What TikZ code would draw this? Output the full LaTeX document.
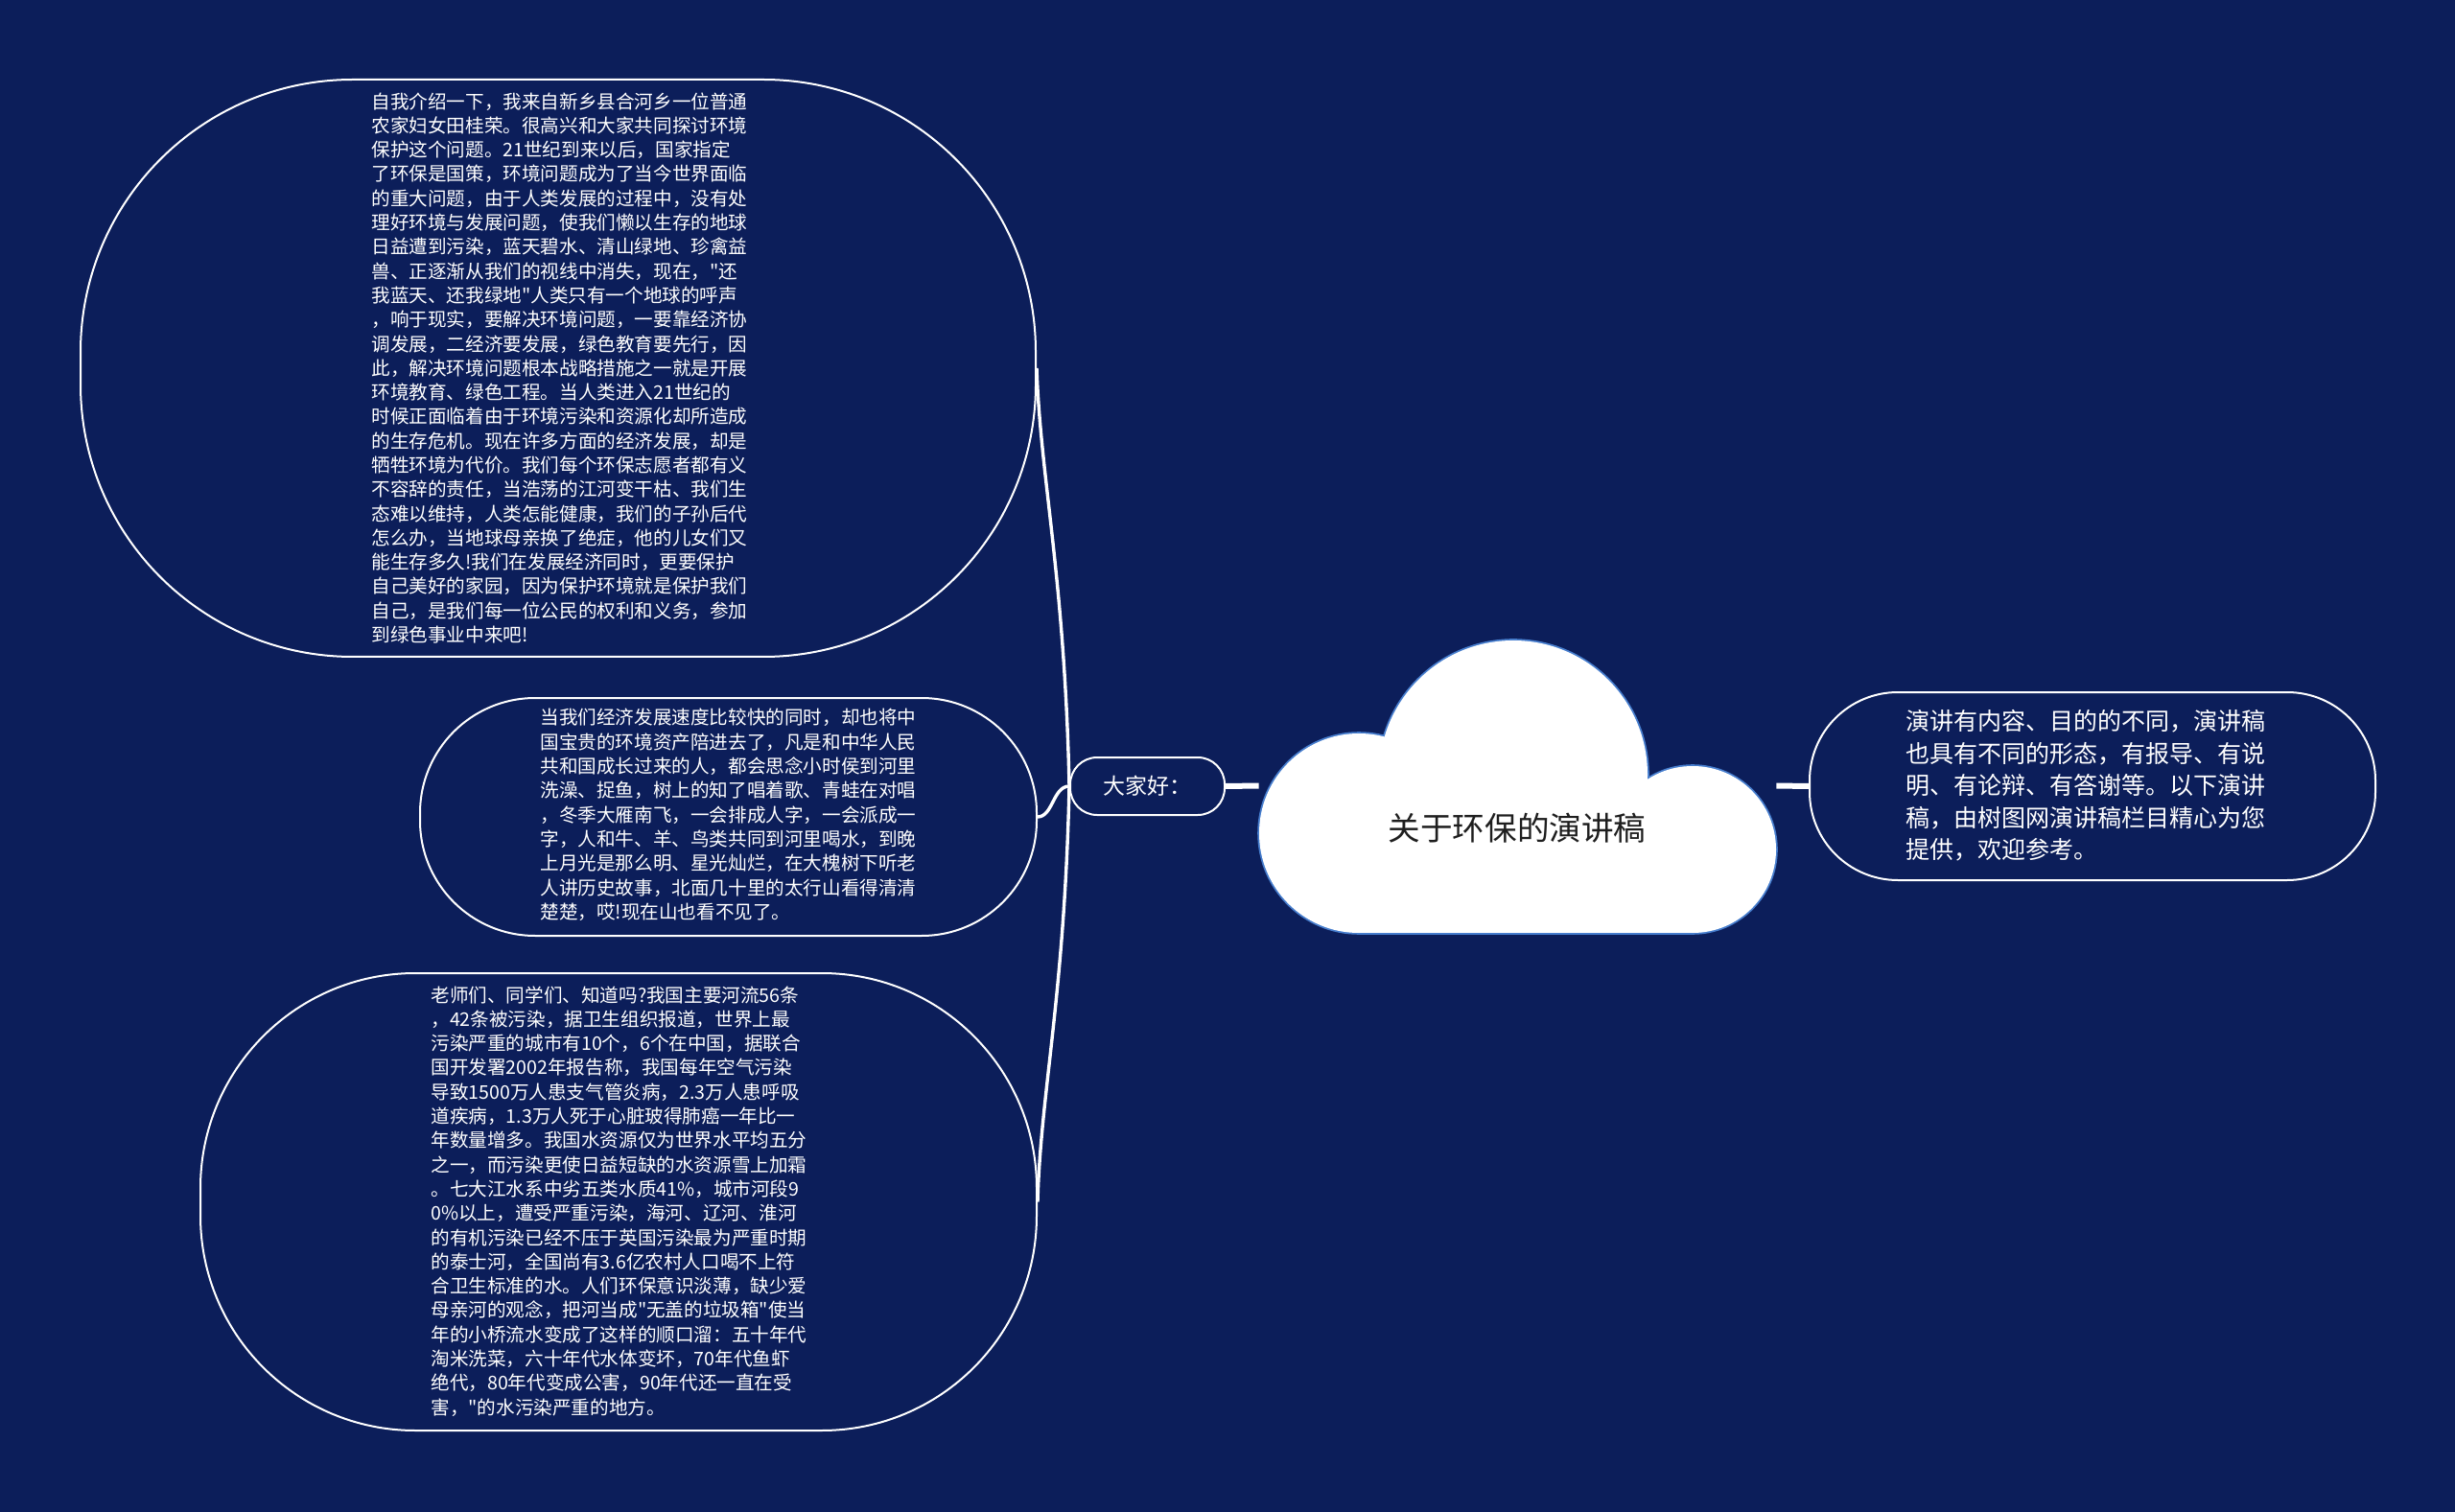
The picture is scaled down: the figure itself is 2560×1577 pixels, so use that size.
\documentclass[tikz,border=0pt]{standalone}
\usepackage{fontspec}
\setmainfont{Noto Sans CJK SC}
\newfontfamily\qfont{Noto Sans CJK SC}
\definecolor{bgnavy}{RGB}{12,30,90}
\definecolor{cloudedge}{RGB}{70,125,205}
\definecolor{titlecol}{RGB}{30,30,30}
\newcommand\sq{{\qfont"}}
\begin{document}
\begin{tikzpicture}[x=0.5pt,y=-0.5pt,
  box/.style={draw=white, line width=1pt, inner sep=0pt},
  txt/.style={text=white, inner sep=0pt, align=left, anchor=north west},
  smalltxt/.style={font=\fontsize{9.8pt}{12.65pt}\selectfont},
  conn/.style={draw=white, line width=1.7pt},
  stub/.style={draw=white, line width=3pt}]

\fill[bgnavy] (0,0) rectangle (2560,1577);
\useasboundingbox (0,0) rectangle (2560,1577);

% cloud (outline then fill)
\foreach \cx/\cy/\r in {1417/869/104, 1578/808/140, 1765/886/87}
  \draw[cloudedge, line width=1.8pt] (\cx,\cy) circle[radius=\r];
\draw[cloudedge, line width=1.8pt] (1417,869) rectangle (1765,973);
\foreach \cx/\cy/\r in {1417/869/104, 1578/808/140, 1765/886/87}
  \fill[white] (\cx,\cy) circle[radius=\r];
\fill[white] (1417,869) rectangle (1765,973);

\node[minimum width=269.5pt, minimum height=153.5pt, inner sep=0pt] (root) at (1582.5,819.5) {};
\node[font=\fontsize{16.8pt}{20pt}\selectfont, text=titlecol, inner sep=0pt] (title) at (1582,864) {关于环保的演讲稿};

% left hub
\node[box, rounded corners=14pt, minimum width=80.5pt, minimum height=30pt, text=white,
      font=\fontsize{11.5pt}{14pt}\selectfont] (dajia) at (1196.5,820) {大家好：};

% right node
\node[box, rounded corners=46pt, minimum width=295pt, minimum height=98pt] (rbox) at (2182,820) {};
\node[txt, font=\fontsize{12.5pt}{16.8pt}\selectfont] (rtext) at (1987,740) {演讲有内容、目的的不同，演讲稿\\
也具有不同的形态，有报导、有说\\
明、有论辩、有答谢等。以下演讲\\
稿，由树图网演讲稿栏目精心为您\\
提供，欢迎参考。};

% block 1
\node[box, rounded corners=142pt, minimum width=498pt, minimum height=301pt] (b1) at (582,384) {};
\node[txt, smalltxt] (t1) at (387,96) {自我介绍一下，我来自新乡县合河乡一位普通\\
农家妇女田桂荣。很高兴和大家共同探讨环境\\
保护这个问题。21世纪到来以后，国家指定\\
了环保是国策，环境问题成为了当今世界面临\\
的重大问题，由于人类发展的过程中，没有处\\
理好环境与发展问题，使我们懒以生存的地球\\
日益遭到污染，蓝天碧水、清山绿地、珍禽益\\
兽、正逐渐从我们的视线中消失，现在，\sq 还\\
我蓝天、还我绿地\sq 人类只有一个地球的呼声\\
，响于现实，要解决环境问题，一要靠经济协\\
调发展，二经济要发展，绿色教育要先行，因\\
此，解决环境问题根本战略措施之一就是开展\\
环境教育、绿色工程。当人类进入21世纪的\\
时候正面临着由于环境污染和资源化却所造成\\
的生存危机。现在许多方面的经济发展，却是\\
牺牲环境为代价。我们每个环保志愿者都有义\\
不容辞的责任，当浩荡的江河变干枯、我们生\\
态难以维持，人类怎能健康，我们的子孙后代\\
怎么办，当地球母亲换了绝症，他的儿女们又\\
能生存多久!我们在发展经济同时，更要保护\\
自己美好的家园，因为保护环境就是保护我们\\
自己，是我们每一位公民的权利和义务，参加\\
到绿色事业中来吧!};

% block 2
\node[box, rounded corners=60pt, minimum width=321.5pt, minimum height=124pt] (b2) at (759.5,852) {};
\node[txt, smalltxt] (t2) at (563,739) {当我们经济发展速度比较快的同时，却也将中\\
国宝贵的环境资产陪进去了，凡是和中华人民\\
共和国成长过来的人，都会思念小时侯到河里\\
洗澡、捉鱼，树上的知了唱着歌、青蛙在对唱\\
，冬季大雁南飞，一会排成人字，一会派成一\\
字，人和牛、羊、鸟类共同到河里喝水，到晚\\
上月光是那么明、星光灿烂，在大槐树下听老\\
人讲历史故事，北面几十里的太行山看得清清\\
楚楚，哎!现在山也看不见了。};

% block 3
\node[box, rounded corners=112pt, minimum width=436pt, minimum height=238.5pt] (b3) at (645,1253.5) {};
\node[txt, smalltxt] (t3) at (449,1028) {老师们、同学们、知道吗?我国主要河流56条\\
，42条被污染，据卫生组织报道，世界上最\\
污染严重的城市有10个，6个在中国，据联合\\
国开发署2002年报告称，我国每年空气污染\\
导致1500万人患支气管炎病，2.3万人患呼吸\\
道疾病，1.3万人死于心脏玻得肺癌一年比一\\
年数量增多。我国水资源仅为世界水平均五分\\
之一，而污染更使日益短缺的水资源雪上加霜\\
。七大江水系中劣五类水质41\%，城市河段9\\
0\%以上，遭受严重污染，海河、辽河、淮河\\
的有机污染已经不压于英国污染最为严重时期\\
的泰士河，全国尚有3.6亿农村人口喝不上符\\
合卫生标准的水。人们环保意识淡薄，缺少爱\\
母亲河的观念，把河当成\sq 无盖的垃圾箱\sq 使当\\
年的小桥流水变成了这样的顺口溜：五十年代\\
淘米洗菜，六十年代水体变坏，70年代鱼虾\\
绝代，80年代变成公害，90年代还一直在受\\
害，\sq 的水污染严重的地方。};

% connectors
\draw[stub] (dajia.east) -- (root.west);
\draw[stub] (root.east) -- (rbox.west);
\draw[conn] (dajia.west) .. controls (1110,600) and (1085,500) .. (b1.east);
\draw[conn] (dajia.west) .. controls (1098,820) and (1098,852) .. (b2.east);
\draw[conn] (dajia.west) .. controls (1110,1040) and (1085,1140) .. (b3.east);
\end{tikzpicture}
\end{document}
